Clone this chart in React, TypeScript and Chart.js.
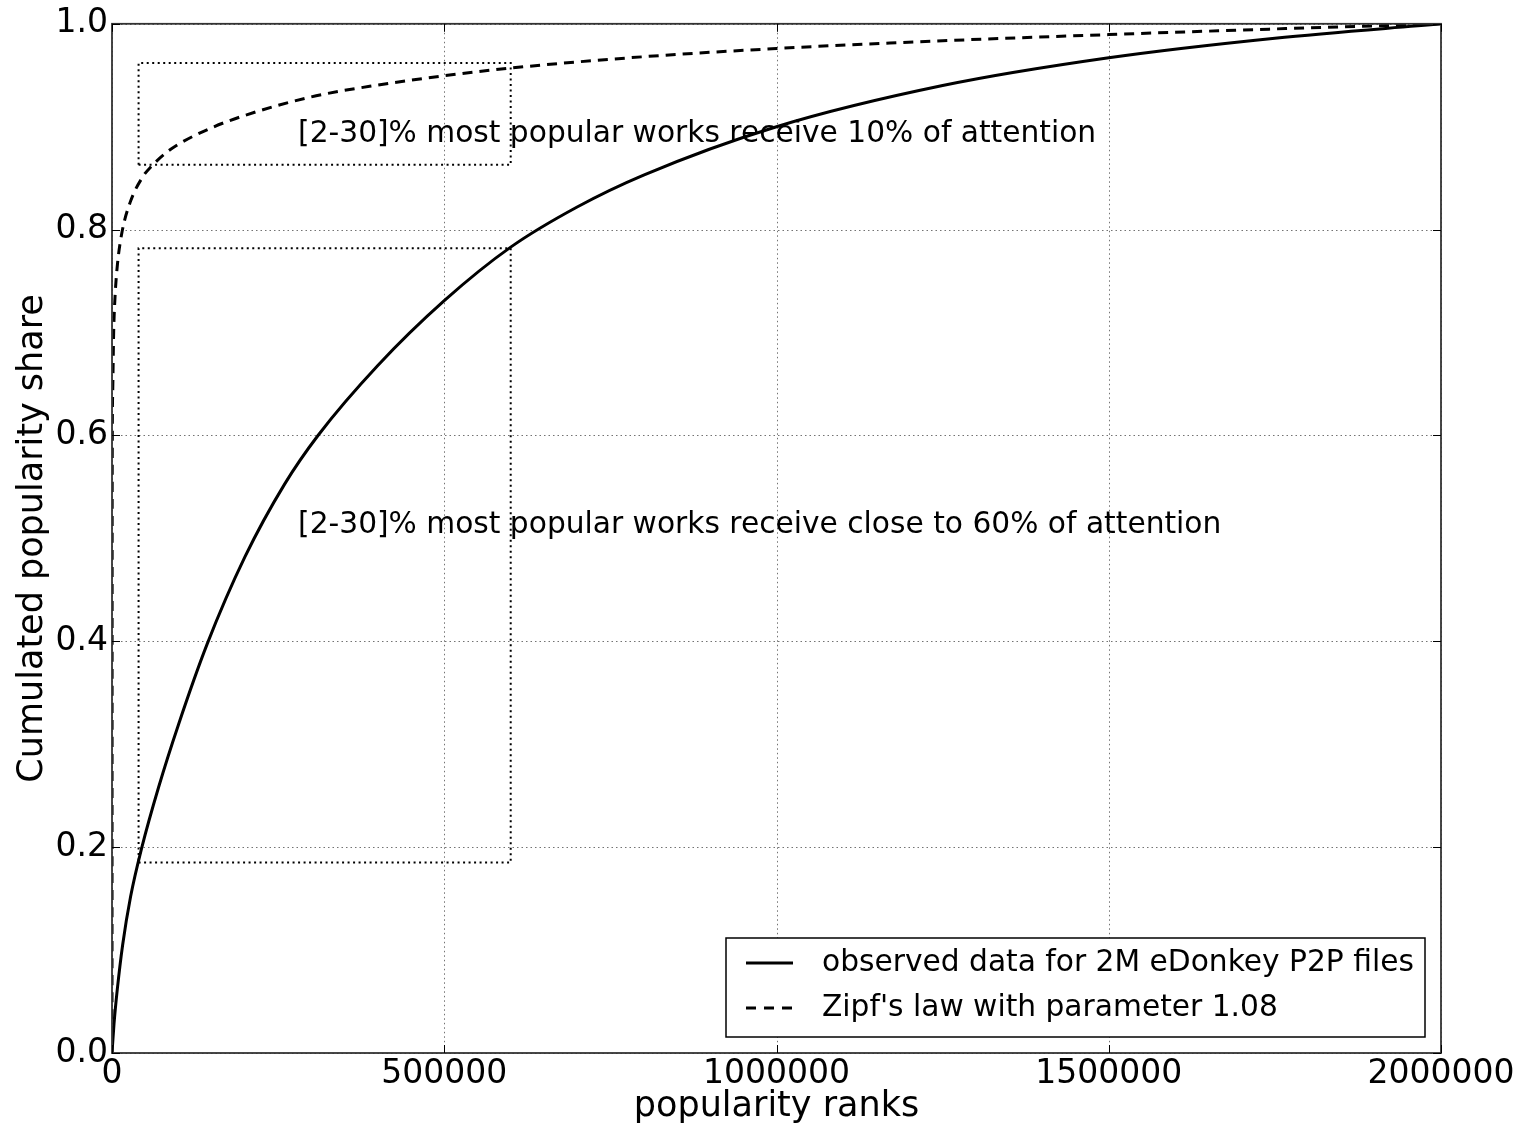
import React, { useEffect, useRef } from "react";
import { Chart, registerables } from "chart.js";

Chart.register(...registerables);

const xTickValues = [0, 500000, 1000000, 1500000, 2000000];
const yTickValues = [0, 0.2, 0.4, 0.6, 0.8, 1.0];

const observedX = [0, 3000, 8000, 16000, 28000, 45000, 70000, 100000, 143000, 200000, 260000, 310000, 400000, 500000, 600000, 700000, 800000, 1000000, 1250000, 1500000, 1750000, 2000000];
const observedY = [0, 0.028, 0.062, 0.105, 0.152, 0.2, 0.258, 0.319, 0.397, 0.482, 0.553, 0.6, 0.668, 0.731, 0.783, 0.822, 0.853, 0.9, 0.94, 0.967, 0.986, 1.0];

const zipfX = [0, 300, 1000, 2500, 4500, 8000, 14600, 27000, 47000, 60000, 80000, 100000, 150000, 200000, 300000, 400000, 500000, 600000, 800000, 1000000, 1250000, 1500000, 1750000, 2000000];
const zipfY = [0, 0.55, 0.64, 0.70, 0.734, 0.765, 0.796, 0.826, 0.852, 0.862, 0.874, 0.883, 0.899, 0.911, 0.929, 0.9405, 0.9495, 0.957, 0.968, 0.976, 0.9835, 0.9895, 0.995, 1.0];

const boxX = [40000, 600000];
const box1Y = [0.863, 0.962];
const box2Y = [0.185, 0.782];

const annotationX = [280000, 280000];
const annotationY = [0.885, 0.505];
const annotationText = [
  "[2-30]% most popular works receive 10% of attention",
  "[2-30]% most popular works receive close to 60% of attention",
];

const legendLabels = ["observed data for 2M eDonkey P2P files", "Zipf's law with parameter 1.08"];
const xTitle = "popularity ranks";
const yTitle = "Cumulated popularity share";

const FONT = "'DejaVu Sans', 'Noto Sans', sans-serif";

const toPoints = (xs: number[], ys: number[]) => xs.map((x, i) => ({ x, y: ys[i] }));
const toRect = (xs: number[], ys: number[]) => [
  { x: xs[0], y: ys[0] },
  { x: xs[1], y: ys[0] },
  { x: xs[1], y: ys[1] },
  { x: xs[0], y: ys[1] },
  { x: xs[0], y: ys[0] },
];

const decorPlugin = {
  id: "decor",
  beforeDatasetsDraw(chart: any) {
    const { ctx, chartArea: a, scales } = chart;
    const xs = scales.x;
    const ys = scales.y;
    ctx.save();
    ctx.strokeStyle = "rgba(0,0,0,0.55)";
    ctx.lineWidth = 1;
    ctx.setLineDash([1.5, 3]);
    xTickValues.forEach((v) => {
      const px = Math.round(xs.getPixelForValue(v)) + 0.5;
      ctx.beginPath();
      ctx.moveTo(px, a.top);
      ctx.lineTo(px, a.bottom);
      ctx.stroke();
    });
    yTickValues.forEach((v) => {
      const py = Math.round(ys.getPixelForValue(v)) + 0.5;
      ctx.beginPath();
      ctx.moveTo(a.left, py);
      ctx.lineTo(a.right, py);
      ctx.stroke();
    });
    ctx.restore();
  },
  afterDatasetsDraw(chart: any) {
    const { ctx, chartArea: a, scales } = chart;
    const xs = scales.x;
    const ys = scales.y;
    ctx.save();
    // frame
    ctx.setLineDash([]);
    ctx.strokeStyle = "#333";
    ctx.lineWidth = 1.8;
    ctx.strokeRect(a.left, a.top, a.right - a.left, a.bottom - a.top);
    // inward ticks
    ctx.lineWidth = 1;
    ctx.strokeStyle = "#000";
    const tl = 8;
    xTickValues.forEach((v) => {
      const px = Math.round(xs.getPixelForValue(v)) + 0.5;
      ctx.beginPath();
      ctx.moveTo(px, a.bottom);
      ctx.lineTo(px, a.bottom - tl);
      ctx.moveTo(px, a.top);
      ctx.lineTo(px, a.top + tl);
      ctx.stroke();
    });
    yTickValues.forEach((v) => {
      const py = Math.round(ys.getPixelForValue(v)) + 0.5;
      ctx.beginPath();
      ctx.moveTo(a.left, py);
      ctx.lineTo(a.left + tl, py);
      ctx.moveTo(a.right, py);
      ctx.lineTo(a.right - tl, py);
      ctx.stroke();
    });
    // annotations
    ctx.fillStyle = "#000";
    ctx.font = `29.7px ${FONT}`;
    ctx.textAlign = "left";
    ctx.textBaseline = "alphabetic";
    annotationText.forEach((t, i) => {
      ctx.fillText(t, xs.getPixelForValue(annotationX[i]), ys.getPixelForValue(annotationY[i]));
    });
    // legend
    const lw = 699;
    const lh = 99;
    const lx = a.right - 16 - lw;
    const ly = a.bottom - 16 - lh;
    ctx.fillStyle = "#fff";
    ctx.fillRect(lx, ly, lw, lh);
    ctx.strokeStyle = "#000";
    ctx.lineWidth = 1.5;
    ctx.strokeRect(lx, ly, lw, lh);
    const rows = [ly + 25, ly + 70];
    ctx.lineWidth = 3;
    ctx.beginPath();
    ctx.moveTo(lx + 20, rows[0]);
    ctx.lineTo(lx + 67, rows[0]);
    ctx.stroke();
    ctx.setLineDash([10, 8]);
    ctx.beginPath();
    ctx.moveTo(lx + 20, rows[1]);
    ctx.lineTo(lx + 67, rows[1]);
    ctx.stroke();
    ctx.setLineDash([]);
    ctx.fillStyle = "#000";
    ctx.font = `29.7px ${FONT}`;
    ctx.textBaseline = "middle";
    legendLabels.forEach((t, i) => ctx.fillText(t, lx + 96, rows[i]));
    // axis titles
    ctx.font = `35px ${FONT}`;
    ctx.textAlign = "center";
    ctx.textBaseline = "alphabetic";
    ctx.fillText(xTitle, (a.left + a.right) / 2, 1116);
    ctx.save();
    ctx.translate(41.5, (a.top + a.bottom) / 2);
    ctx.rotate(-Math.PI / 2);
    ctx.fillText(yTitle, 0, 0);
    ctx.restore();
    ctx.restore();
  },
};

export default function App() {
  const ref = useRef<HTMLCanvasElement | null>(null);
  useEffect(() => {
    if (!ref.current) return;
    const tickFont = { family: FONT, size: 33 };
    const chart = new Chart(ref.current, {
      type: "line",
      data: {
        datasets: [
          {
            label: legendLabels[0],
            data: toPoints(observedX, observedY),
            borderColor: "#000",
            borderWidth: 3,
            pointRadius: 0,
            fill: false,
            cubicInterpolationMode: "monotone",
          },
          {
            label: legendLabels[1],
            data: toPoints(zipfX, zipfY),
            borderColor: "#000",
            borderWidth: 3,
            borderDash: [10, 7],
            pointRadius: 0,
            fill: false,
            cubicInterpolationMode: "monotone",
          },
          {
            label: "box1",
            data: toRect(boxX, box1Y),
            borderColor: "#000",
            borderWidth: 2,
            borderDash: [2, 3.5],
            pointRadius: 0,
            fill: false,
            tension: 0,
          },
          {
            label: "box2",
            data: toRect(boxX, box2Y),
            borderColor: "#000",
            borderWidth: 2,
            borderDash: [2, 3.5],
            pointRadius: 0,
            fill: false,
            tension: 0,
          },
        ],
      } as any,
      options: {
        animation: false,
        responsive: false,
        events: [],
        layout: { padding: { top: 23, right: 77, left: 0, bottom: 0 } },
        plugins: { legend: { display: false }, tooltip: { enabled: false } },
        scales: {
          x: {
            type: "linear",
            min: 0,
            max: 2000000,
            afterBuildTicks: (s: any) => {
              s.ticks = xTickValues.map((v) => ({ value: v }));
            },
            afterFit: (s: any) => {
              s.height = 75;
            },
            ticks: {
              font: tickFont,
              color: "#000",
              padding: 2,
              maxRotation: 0,
              autoSkip: false,
              callback: (v: any) => String(v),
            },
            grid: { display: false, drawTicks: false },
            border: { display: false },
          },
          y: {
            type: "linear",
            min: 0,
            max: 1,
            afterBuildTicks: (s: any) => {
              s.ticks = yTickValues.map((v) => ({ value: v }));
            },
            afterFit: (s: any) => {
              s.width = 112;
            },
            ticks: {
              font: tickFont,
              color: "#000",
              padding: 4,
              autoSkip: false,
              callback: (v: any) => Number(v).toFixed(1),
            },
            grid: { display: false, drawTicks: false },
            border: { display: false },
          },
        },
      } as any,
      plugins: [decorPlugin],
    });
    return () => chart.destroy();
  }, []);
  return (
    <div style={{ position: "fixed", left: 0, top: 0, width: 1518, height: 1128, background: "#fff" }}>
      <canvas ref={ref} width={1518} height={1128} style={{ display: "block", width: 1518, height: 1128 }} />
    </div>
  );
}
